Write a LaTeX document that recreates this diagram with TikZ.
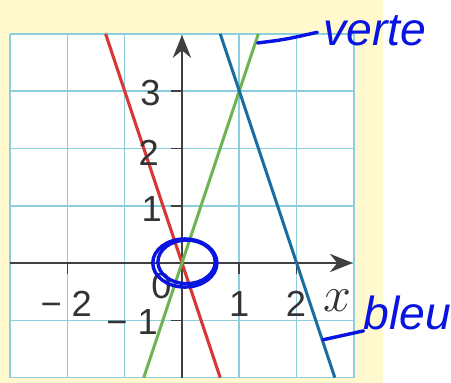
\documentclass[tikz,border=0pt]{standalone}
\usepackage{fontspec}
\setmainfont{Liberation Sans}
\usepackage{tikz}
\usetikzlibrary{arrows.meta}

\definecolor{paper}{RGB}{255,249,205}
\definecolor{gridblue}{RGB}{140,205,222}
\definecolor{redline}{RGB}{215,55,55}
\definecolor{greenline}{RGB}{110,180,80}
\definecolor{blueline}{RGB}{25,110,160}
\definecolor{pen}{RGB}{10,20,225}

\tikzset{
  axis/.style={black!75, line width=0.8pt},
  lbl/.style={font=\fontsize{18}{19}\selectfont, text=black!80, inner sep=0pt},
  hand/.style={font=\fontsize{23}{24}\selectfont\itshape, text=pen, inner sep=0pt},
  penline/.style={pen, line width=1.7pt, line cap=round},
}

\begin{document}
\begin{tikzpicture}
    \useasboundingbox (-3.176,-2.094) rectangle (4.695,4.59);
    \fill[paper] (-3.176,-2.094) rectangle (3.51,4.59);
    \fill[white] (-3,-2) rectangle (3,4);
    \draw[gridblue, line width=0.8pt] (-3,-2) grid (3,4);
    \draw[axis, -{Stealth[length=4mm,width=3.2mm]}] (-3,0) -- (2.98,0);
    \draw[axis, -{Stealth[length=4mm,width=3.2mm]}] (0,-2) -- (0,3.98);
    \foreach \x in {-2,1,2} \draw[axis] (\x,0) -- (\x,-0.2);
    \foreach \y in {-1,1,2,3} \draw[axis] (0,\y) -- (-0.2,\y);
    \draw[redline, line width=1.5pt] (-1.333,4) -- (0.667,-2);
    \draw[greenline, line width=1.5pt] (-0.667,-2) -- (1.333,4);
    \draw[blueline, line width=1.5pt] (0.667,4) -- (2.667,-2);
    \node[lbl] (y3) at (-0.55,2.97) {3};
    \node[lbl] (y2) at (-0.58,1.92) {2};
    \node[lbl] (y1) at (-0.53,0.95) {1};
    \node[lbl] (ym1) at (-0.87,-1.03) {−\hspace{5pt}1};
    \node[lbl] (x0) at (-0.36,-0.40) {0};
    \node[lbl] (xm2) at (-2.02,-0.72) {−\hspace{5pt}2};
    \node[lbl] (x1) at (1.0,-0.72) {1};
    \node[lbl] (x2) at (1.99,-0.72) {2};
    \node[lbl] (xlab) at (2.72,-0.66) {\fontsize{23}{23}\selectfont$x$};
    %\draw[pen] (0,0) circle (0.5);
    \draw[penline] (0.05,0) ellipse (0.56 and 0.42);
    \draw[penline] (0.08,0.02) ellipse (0.50 and 0.38);
    \coordinate (greentop) at (1.32,3.84);
    \node[hand] (verte) at (3.37,4.05) {verte};
    \draw[penline, shorten >=3pt] (greentop) .. controls (1.8,3.9) .. (verte.west);
    \coordinate (bluept) at (2.46,-1.34);
    \node[hand] (bleu) at (3.94,-0.88) {bleu};
    \draw[penline] (bluept) -- (bleu.south west);
\end{tikzpicture}
\end{document}
